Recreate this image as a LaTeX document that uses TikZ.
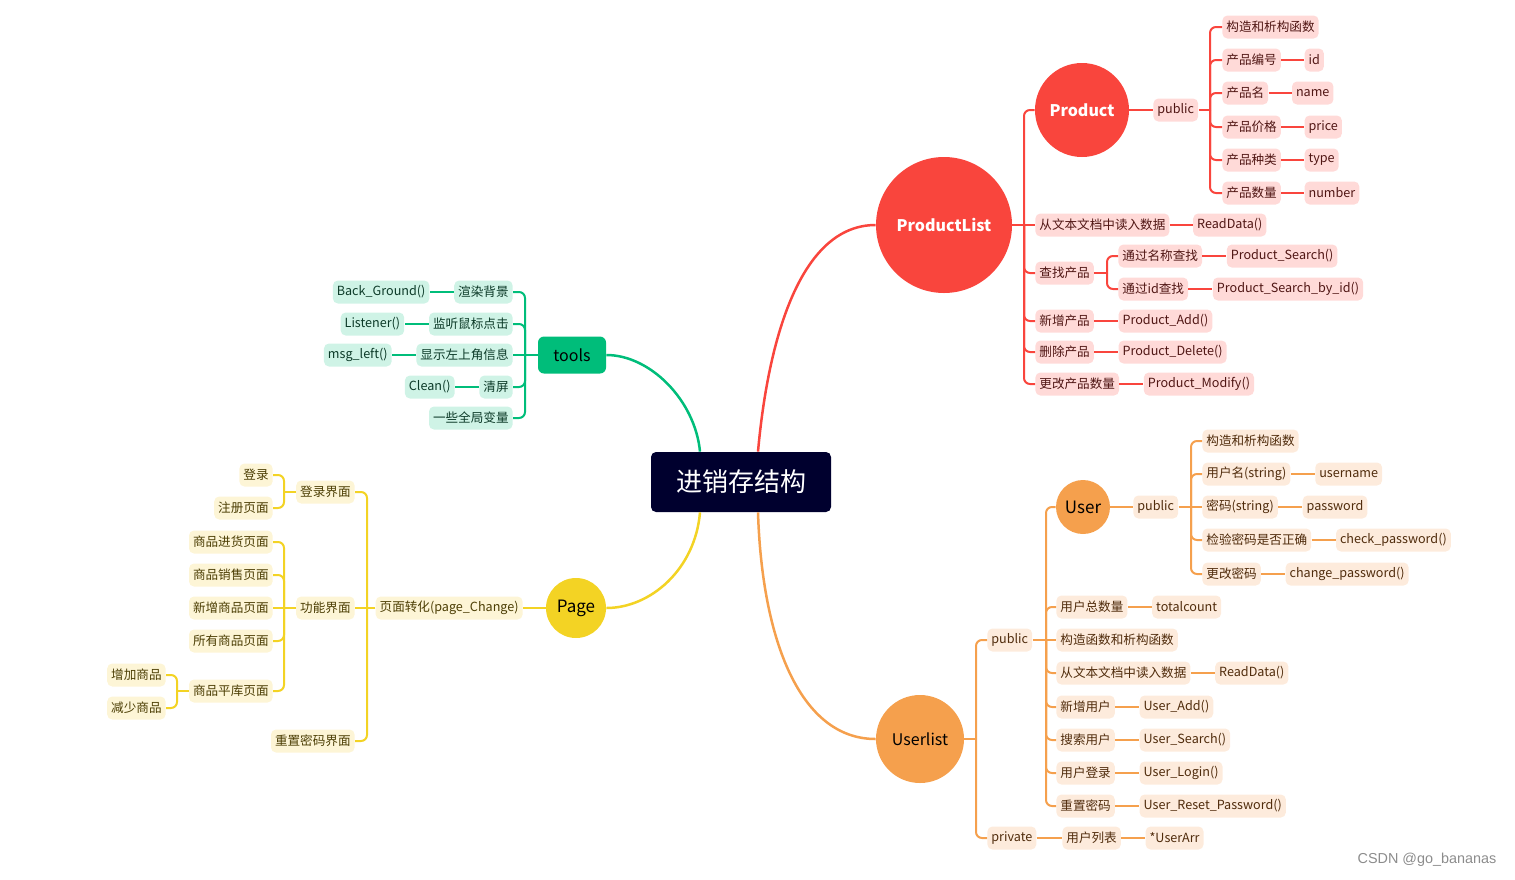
\documentclass[tikz,border=0pt]{standalone}
\usepackage{fontspec}
\setmainfont{Noto Sans CJK SC}
\newfontfamily\wmfont{Liberation Sans}
\usetikzlibrary{positioning}
\definecolor{redM}{RGB}{249,69,61}
\definecolor{redL}{RGB}{255,218,216}
\definecolor{redT}{RGB}{80,22,20}
\definecolor{grnM}{RGB}{0,189,122}
\definecolor{grnL}{RGB}{207,243,230}
\definecolor{grnT}{RGB}{12,58,40}
\definecolor{ylwM}{RGB}{243,211,36}
\definecolor{ylwL}{RGB}{253,245,214}
\definecolor{ylwT}{RGB}{76,62,4}
\definecolor{orgM}{RGB}{245,160,77}
\definecolor{orgL}{RGB}{253,235,220}
\definecolor{orgT}{RGB}{80,44,12}
\definecolor{navy}{RGB}{0,0,46}
\tikzset{
  box/.style={rounded corners=2.5pt, inner xsep=2pt, inner ysep=0pt, minimum height=11.5pt, font=\fontsize{6.3}{7}\selectfont},
  rbox/.style={box, fill=redL, text=redT},
  gbox/.style={box, fill=grnL, text=grnT},
  ybox/.style={box, fill=ylwL, text=ylwT},
  obox/.style={box, fill=orgL, text=orgT},
  rline/.style={draw=redM, line width=1pt},
  gline/.style={draw=grnM, line width=1pt},
  yline/.style={draw=ylwM, line width=1pt},
  oline/.style={draw=orgM, line width=1pt},
  trunk/.style={rounded corners=3pt},
  bigcirc/.style={circle, inner sep=0pt, font=\fontsize{8}{9}\selectfont},
  mainline/.style={line width=1.25pt},
}
\begin{document}
\begin{tikzpicture}[x=0.5pt,y=-0.5pt]
\useasboundingbox (0,0) rectangle (1515,879);

% root
\node[fill=navy, rounded corners=2.5pt, minimum width=90pt, minimum height=30pt, text=white, font=\fontsize{13}{15}\selectfont] (root) at (741,482) {进销存结构};

% ================= ProductList =================
\node[bigcirc, fill=redM, text=white, minimum size=68pt, font=\fontsize{8}{9}\selectfont\bfseries] (PL) at (944,225) {ProductList};
\node[bigcirc, fill=redM, text=white, minimum size=47pt, font=\fontsize{8}{9}\selectfont\bfseries] (P) at (1082,110) {Product};
\coordinate (tPL) at (1024,0);
\node[rbox, anchor=west] (pl1) at (1035,225) {从文本文档中读入数据};
\node[rbox, anchor=west] (pl2) at (1035,273) {查找产品};
\node[rbox, anchor=west] (pl3) at (1035,321) {新增产品};
\node[rbox, anchor=west] (pl4) at (1035,352) {删除产品};
\node[rbox, anchor=west] (pl5) at (1035,384) {更改产品数量};
\draw[rline] (PL.east) -- (pl1.west);
\foreach \c in {P,pl2,pl3,pl4,pl5} \draw[rline, trunk] (PL.east -| tPL) |- (\c.west);

\node[rbox, right=11.5pt of pl1] (rd1) {ReadData()};
\draw[rline] (pl1.east) -- (rd1.west);
\coordinate (tPS) at (1107,0);
\node[rbox, anchor=west] (ps1) at (1118,256) {通过名称查找};
\node[rbox, anchor=west] (ps2) at (1118,289) {通过id查找};
\draw[rline] (pl2.east) -- (pl2.east -| tPS);
\foreach \c in {ps1,ps2} \draw[rline, trunk] (pl2.east -| tPS) |- (\c.west);
\node[rbox, right=12pt of ps1] (ps1f) {Product\_Search()};
\node[rbox, right=12pt of ps2] (ps2f) {Product\_Search\_by\_id()};
\draw[rline] (ps1.east) -- (ps1f.west);
\draw[rline] (ps2.east) -- (ps2f.west);
\node[rbox, right=12pt of pl3] (pl3f) {Product\_Add()};
\node[rbox, right=12pt of pl4] (pl4f) {Product\_Delete()};
\node[rbox, right=12pt of pl5] (pl5f) {Product\_Modify()};
\draw[rline] (pl3.east) -- (pl3f.west);
\draw[rline] (pl4.east) -- (pl4f.west);
\draw[rline] (pl5.east) -- (pl5f.west);

% Product public
\node[rbox, anchor=west] (ppub) at (1153,110) {public};
\draw[rline] (P.east) -- (ppub.west);
\coordinate (tPP) at (1210,0);
\node[rbox, anchor=west] (pp1) at (1222,27) {构造和析构函数};
\node[rbox, anchor=west] (pp2) at (1222,60) {产品编号};
\node[rbox, anchor=west] (pp3) at (1222,93) {产品名};
\node[rbox, anchor=west] (pp4) at (1222,127) {产品价格};
\node[rbox, anchor=west] (pp5) at (1222,160) {产品种类};
\node[rbox, anchor=west] (pp6) at (1222,193) {产品数量};
\draw[rline] (ppub.east) -- (ppub.east -| tPP);
\foreach \c in {pp1,pp2,pp3,pp4,pp5,pp6} \draw[rline, trunk] (ppub.east -| tPP) |- (\c.west);
\node[rbox, right=11.5pt of pp2] (pp2f) {id};
\node[rbox, right=11.5pt of pp3] (pp3f) {name};
\node[rbox, right=11.5pt of pp4] (pp4f) {price};
\node[rbox, right=11.5pt of pp5] (pp5f) {type};
\node[rbox, right=11.5pt of pp6] (pp6f) {number};
\foreach \a/\b in {pp2/pp2f,pp3/pp3f,pp4/pp4f,pp5/pp5f,pp6/pp6f} \draw[rline] (\a.east) -- (\b.west);

% ================= tools =================
\node[fill=grnM, rounded corners=3pt, minimum width=34pt, minimum height=18.5pt, inner sep=0pt, font=\fontsize{8}{9}\selectfont] (T) at (572,355) {tools};
\coordinate (tT) at (525,0);
\node[gbox, anchor=east] (t1) at (513,292) {渲染背景};
\node[gbox, anchor=east] (t2) at (513,324) {监听鼠标点击};
\node[gbox, anchor=east] (t3) at (513,355) {显示左上角信息};
\node[gbox, anchor=east] (t4) at (513,387) {清屏};
\node[gbox, anchor=east] (t5) at (513,418) {一些全局变量};
\draw[gline] (T.west) -- (t3.east);
\foreach \c in {t1,t2,t4,t5} \draw[gline, trunk] (T.west -| tT) |- (\c.east);
\node[gbox, left=12pt of t1] (t1f) {Back\_Ground()};
\node[gbox, left=12pt of t2] (t2f) {Listener()};
\node[gbox, left=12pt of t3] (t3f) {msg\_left()};
\node[gbox, left=12pt of t4] (t4f) {Clean()};
\foreach \a/\b in {t1/t1f,t2/t2f,t3/t3f,t4/t4f} \draw[gline] (\a.west) -- (\b.east);

% ================= Page =================
\node[bigcirc, fill=ylwM, minimum size=30pt, font=\fontsize{8.5}{9}\selectfont] (PG) at (576,608) {Page};
\node[ybox, anchor=east] (pg) at (523,608) {页面转化(page\_Change)};
\draw[yline] (PG.west) -- (pg.east);
\coordinate (tPG) at (367,0);
\node[ybox, anchor=east] (g1) at (355,492) {登录界面};
\node[ybox, anchor=east] (g2) at (355,608) {功能界面};
\node[ybox, anchor=east] (g3) at (355,741) {重置密码界面};
\draw[yline] (pg.west) -- (g2.east);
\foreach \c in {g1,g3} \draw[yline, trunk] (pg.west -| tPG) |- (\c.east);
\coordinate (tG) at (284,0);
\node[ybox, anchor=east] (g11) at (273,475) {登录};
\node[ybox, anchor=east] (g12) at (273,508) {注册页面};
\draw[yline] (g1.west) -- (g1.west -| tG);
\foreach \c in {g11,g12} \draw[yline, trunk] (g1.west -| tG) |- (\c.east);
\node[ybox, anchor=east] (g21) at (273,542) {商品进货页面};
\node[ybox, anchor=east] (g22) at (273,575) {商品销售页面};
\node[ybox, anchor=east] (g23) at (273,608) {新增商品页面};
\node[ybox, anchor=east] (g24) at (273,641) {所有商品页面};
\node[ybox, anchor=east] (g25) at (273,691) {商品平库页面};
\draw[yline] (g2.west) -- (g23.east);
\foreach \c in {g21,g22,g24,g25} \draw[yline, trunk] (g2.west -| tG) |- (\c.east);
\coordinate (tG5) at (177,0);
\node[ybox, anchor=east] (g251) at (166,675) {增加商品};
\node[ybox, anchor=east] (g252) at (166,708) {减少商品};
\draw[yline] (g25.west) -- (g25.west -| tG5);
\foreach \c in {g251,g252} \draw[yline, trunk] (g25.west -| tG5) |- (\c.east);

% ================= Userlist =================
\node[bigcirc, fill=orgM, minimum size=44pt, font=\fontsize{8}{9}\selectfont] (UL) at (920,739) {Userlist};
\coordinate (tUL) at (976,0);
\node[obox, anchor=west] (upub) at (987,640) {public};
\node[obox, anchor=west] (upri) at (987,838) {private};
\draw[oline] (UL.east) -- (UL.east -| tUL);
\foreach \c in {upub,upri} \draw[oline, trunk] (UL.east -| tUL) |- (\c.west);

\coordinate (tUP) at (1046,0);
\node[bigcirc, fill=orgM, minimum size=27pt, font=\fontsize{8.5}{9}\selectfont] (U) at (1083,507) {User};
\node[obox, anchor=west] (u1) at (1056,607) {用户总数量};
\node[obox, anchor=west] (u2) at (1056,640) {构造函数和析构函数};
\node[obox, anchor=west] (u3) at (1056,673) {从文本文档中读入数据};
\node[obox, anchor=west] (u4) at (1056,707) {新增用户};
\node[obox, anchor=west] (u5) at (1056,740) {搜索用户};
\node[obox, anchor=west] (u6) at (1056,773) {用户登录};
\node[obox, anchor=west] (u7) at (1056,806) {重置密码};
\draw[oline] (upub.east) -- (u2.west);
\foreach \c in {U,u1,u3,u4,u5,u6,u7} \draw[oline, trunk] (upub.east -| tUP) |- (\c.west);
\node[obox, right=12pt of u1] (u1f) {totalcount};
\node[obox, right=12pt of u3] (u3f) {ReadData()};
\node[obox, right=12pt of u4] (u4f) {User\_Add()};
\node[obox, right=12pt of u5] (u5f) {User\_Search()};
\node[obox, right=12pt of u6] (u6f) {User\_Login()};
\node[obox, right=12pt of u7] (u7f) {User\_Reset\_Password()};
\foreach \a/\b in {u1/u1f,u3/u3f,u4/u4f,u5/u5f,u6/u6f,u7/u7f} \draw[oline] (\a.east) -- (\b.west);

\node[obox, anchor=west] (ur1) at (1062,838) {用户列表};
\node[obox, right=12pt of ur1] (ur1f) {*UserArr};
\draw[oline] (upri.east) -- (ur1.west);
\draw[oline] (ur1.east) -- (ur1f.west);

\node[obox, anchor=west] (uspub) at (1133,507) {public};
\draw[oline] (U.east) -- (uspub.west);
\coordinate (tUS) at (1191,0);
\node[obox, anchor=west] (us1) at (1202,441) {构造和析构函数};
\node[obox, anchor=west] (us2) at (1202,474) {用户名(string)};
\node[obox, anchor=west] (us3) at (1202,507) {密码(string)};
\node[obox, anchor=west] (us4) at (1202,540) {检验密码是否正确};
\node[obox, anchor=west] (us5) at (1202,574) {更改密码};
\draw[oline] (uspub.east) -- (us3.west);
\foreach \c in {us1,us2,us4,us5} \draw[oline, trunk] (uspub.east -| tUS) |- (\c.west);
\node[obox, right=12pt of us2] (us2f) {username};
\node[obox, right=12pt of us3] (us3f) {password};
\node[obox, right=12pt of us4] (us4f) {check\_password()};
\node[obox, right=12pt of us5] (us5f) {change\_password()};
\foreach \a/\b in {us2/us2f,us3/us3f,us4/us4f,us5/us5f} \draw[oline] (\a.east) -- (\b.west);

% ================= main curves =================
\draw[redM, mainline] ([xshift=8.5pt]root.north) .. controls (768,340) and (800,225) .. (PL.west);
\draw[grnM, mainline] (T.east) .. controls (650,355) and (695,400) .. ([xshift=-20.5pt]root.north);
\draw[ylwM, mainline] ([xshift=-20.5pt]root.south) .. controls (695,570) and (650,608) .. (PG.east);
\draw[orgM, mainline] ([xshift=8.5pt]root.south) .. controls (762,640) and (800,739) .. (UL.west);

% watermark
\node[text=black!45, font=\wmfont\fontsize{7.2}{8}\selectfont] (wm) at (1427,860) {CSDN @go\_bananas};
\end{tikzpicture}
\end{document}
